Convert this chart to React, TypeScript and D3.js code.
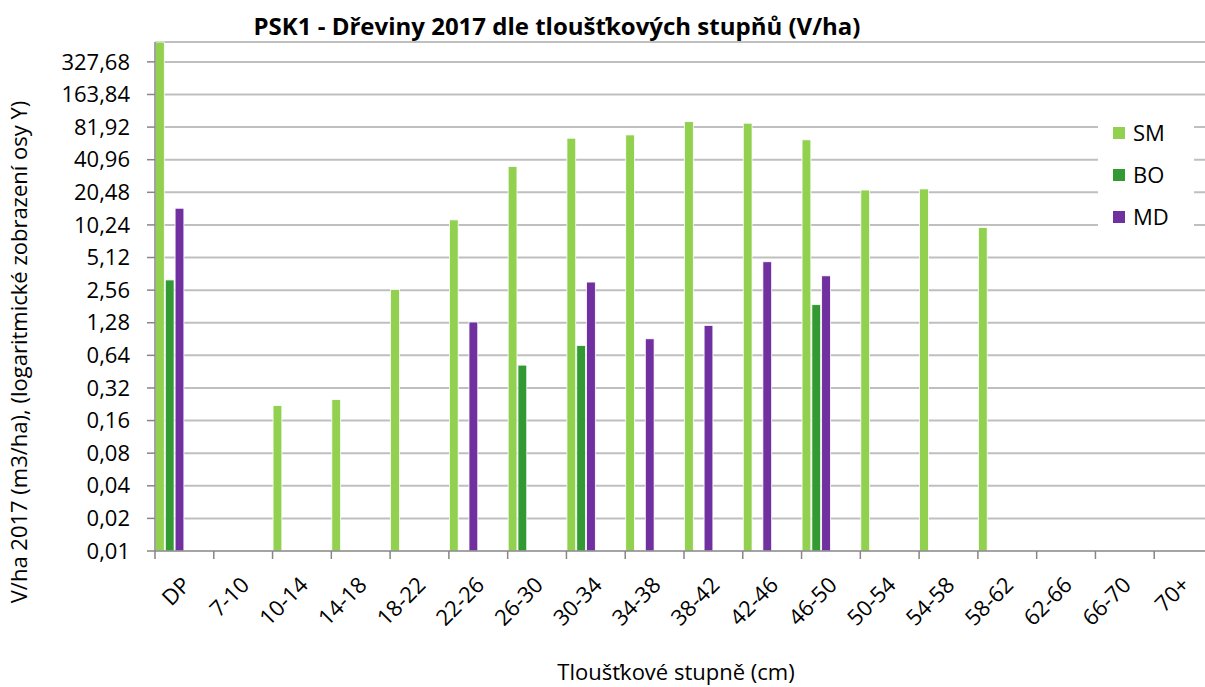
import { useMemo } from 'react'
import { scaleBand, scaleLog } from 'd3'

// PSK1 – dřeviny 2017 dle tloušťkových stupňů, log2 osa Y

const categories = ['DP', '7-10', '10-14', '14-18', '18-22', '22-26', '26-30', '30-34', '34-38', '38-42', '42-46', '46-50', '50-54', '54-58', '58-62', '62-66', '66-70', '70+']
const seriesNames = ['SM', 'BO', 'MD']
const smValues = [520, 0, 0.22, 0.25, 2.6, 11.4, 35.5, 64.7, 69.4, 92, 89, 62.5, 21.5, 22, 9.7, 0, 0, 0]
const boValues = [3.18, 0, 0, 0, 0, 0, 0.52, 0.79, 0, 0, 0, 1.88, 0, 0, 0, 0, 0, 0]
const mdValues = [14.6, 0, 0, 0, 0, 1.3, 0, 3.04, 0.91, 1.21, 4.68, 3.47, 0, 0, 0, 0, 0, 0]
const yTicks = [0.01, 0.02, 0.04, 0.08, 0.16, 0.32, 0.64, 1.28, 2.56, 5.12, 10.24, 20.48, 40.96, 81.92, 163.84, 327.68]

const COLORS = ['#92D050', '#339933', '#7030A0']
const FONT = '"Open Sans", "Noto Sans", sans-serif'
const W = 1205
const H = 687
const M = { top: 42, left: 155, bottom: 551, right: 1213 }
// 6 slotů ve skupině (Excel — 3 řady použité)
const SLOTS = ['s0', 's1', 's2', 's3', 's4', 's5']

export default function App() {
  const x = useMemo(() => scaleBand().domain(categories).range([M.left, M.right]).padding(0), [])
  const sub = useMemo(() => scaleBand().domain(SLOTS).range([0, x.bandwidth()]).padding(0), [x])
  const y = useMemo(() => scaleLog().base(2).domain([0.01, 500]).range([M.bottom, M.top]).clamp(true), [])

  const series = [smValues, boValues, mdValues]
  const fmt = (v: number) => v.toFixed(2).replace('.', ',')

  return (
    <svg width={W} height={H} style={{ position: 'absolute', left: 0, top: 0, background: '#fff' }} fontFamily={FONT}>
      <text x={557} y={35} textAnchor="middle" fontSize={24} fontWeight="bold" fill="#000">
        PSK1 - Dřeviny 2017 dle tloušťkových stupňů (V/ha)
      </text>

      {/* mřížka */}
      <line x1={M.left} x2={W} y1={M.top} y2={M.top} stroke="#BFBFBF" strokeWidth={2} />
      {yTicks.slice(1).map((t) => (
        <line key={t} x1={M.left} x2={W} y1={y(t)} y2={y(t)} stroke="#BFBFBF" strokeWidth={2} />
      ))}

      {/* sloupce */}
      {series.map((vals, si) =>
        vals.map((v, ci) => {
          if (!v) return null
          const bx = (x(categories[ci]) ?? 0) + (sub(SLOTS[si]) ?? 0)
          const top = y(v)
          return (
            <rect
              key={`${si}-${ci}`}
              x={bx + 0.5}
              y={top}
              width={sub.bandwidth() - 1}
              height={M.bottom - top}
              fill={COLORS[si]}
              stroke="#fff"
              strokeWidth={0.8}
            />
          )
        }),
      )}

      {/* osa Y */}
      <line x1={M.left} x2={M.left} y1={M.top} y2={M.bottom} stroke="#868686" strokeWidth={1.5} />
      {yTicks.map((t) => (
        <g key={t}>
          <line x1={M.left - 8} x2={M.left} y1={y(t)} y2={y(t)} stroke="#868686" strokeWidth={1.5} />
          <text x={130} y={y(t)} dy="0.35em" textAnchor="end" fontSize={22} fill="#000">
            {fmt(t)}
          </text>
        </g>
      ))}

      {/* osa X */}
      <line x1={M.left} x2={W} y1={M.bottom} y2={M.bottom} stroke="#868686" strokeWidth={1.5} />
      {categories.map((c) => {
        const x0 = x(c) ?? 0
        const cx = x0 + x.bandwidth() / 2
        return (
          <g key={c}>
            <line x1={x0} x2={x0} y1={M.bottom} y2={M.bottom + 8} stroke="#868686" strokeWidth={1.5} />
            <text
              transform={`translate(${cx + 2}, ${M.bottom + 30}) rotate(-45)`}
              textAnchor="end"
              dy="0.35em"
              fontSize={22}
              fill="#000"
            >
              {c}
            </text>
          </g>
        )
      })}

      <text x={676} y={680} textAnchor="middle" fontSize={22} fill="#000">
        Tloušťkové stupně (cm)
      </text>
      <text transform={`translate(27, ${352}) rotate(-90)`} textAnchor="middle" fontSize={22} fill="#000">
        V/ha 2017 (m3/ha), (logaritmické zobrazení osy Y)
      </text>

      {/* legenda */}
      <rect x={1098} y={114} width={96} height={122} fill="#fff" />
      {seriesNames.map((n, i) => (
        <g key={n} transform={`translate(1113, ${133 + i * 42})`}>
          <rect x={0} y={-6} width={12} height={12} fill={COLORS[i]} />
          <text x={20} y={0} dy="0.35em" fontSize={22} fill="#000">
            {n}
          </text>
        </g>
      ))}
    </svg>
  )
}
